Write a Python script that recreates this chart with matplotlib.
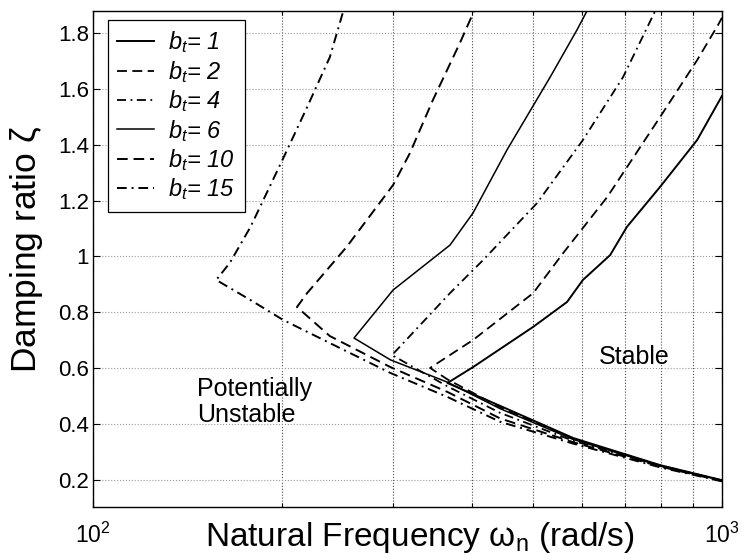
import matplotlib
matplotlib.use("Agg")
import matplotlib.pyplot as plt
from matplotlib.ticker import LogLocator, NullFormatter, FixedLocator

plt.rcParams['font.family'] = ['Liberation Sans', 'DejaVu Sans']
plt.rcParams['mathtext.fontset'] = 'custom'
plt.rcParams['mathtext.rm'] = 'Liberation Sans'
plt.rcParams['mathtext.it'] = 'Liberation Sans:italic'
plt.rcParams['mathtext.bf'] = 'Liberation Sans:bold'

# ---- data (omega in rad/s, zeta) ----
bt_values = [1, 2, 4, 6, 10, 15]

b1_w = [1000, 797, 580, 444, 366, 402, 501, 567, 601, 664, 706, 797, 913, 1000]
b1_z = [0.199, 0.253, 0.35, 0.465, 0.547, 0.604, 0.748, 0.837, 0.916, 1.005, 1.106, 1.249, 1.417, 1.575]

b2_w = [1000, 797, 580, 444, 366, 343.5, 402, 501, 559, 657, 797, 913, 985, 1000]
b2_z = [0.198, 0.252, 0.347, 0.46, 0.56, 0.601, 0.701, 0.869, 1.012, 1.213, 1.499, 1.703, 1.828, 1.855]

b4_w = [1000, 797, 580, 444, 366, 298.8, 369.5, 417, 508, 601, 696, 783, 790]
b4_z = [0.197, 0.25, 0.34, 0.44, 0.535, 0.647, 0.869, 0.987, 1.191, 1.417, 1.642, 1.879, 1.9]

b6_w = [1000, 797, 580, 444, 366, 297, 260, 300, 369.5, 402, 455, 533, 588, 610, 615]
b6_z = [0.198, 0.251, 0.345, 0.455, 0.55, 0.63, 0.708, 0.88, 1.041, 1.156, 1.381, 1.642, 1.811, 1.879, 1.9]

b10_w = [1000, 797, 580, 444, 366, 297, 238, 211, 219, 253, 300, 319, 347, 383, 403.5, 407]
b10_z = [0.196, 0.248, 0.335, 0.42, 0.515, 0.604, 0.715, 0.819, 0.869, 1.034, 1.256, 1.37, 1.56, 1.764, 1.879, 1.9]

b15_w = [1000, 797, 580, 444, 366, 297, 238, 200.5, 178, 157, 165, 178, 200, 219, 238, 250, 252]
b15_z = [0.195, 0.245, 0.33, 0.408, 0.497, 0.583, 0.69, 0.773, 0.844, 0.916, 0.977, 1.106, 1.345, 1.535, 1.714, 1.879, 1.9]

curves_w = [b1_w, b2_w, b4_w, b6_w, b10_w, b15_w]
curves_z = [b1_z, b2_z, b4_z, b6_z, b10_z, b15_z]

x_ticks = [100, 1000]
x_tick_labels = [r'$10^{2}$', r'$10^{3}$']
y_ticks = [0.2, 0.4, 0.6, 0.8, 1.0, 1.2, 1.4, 1.6, 1.8]
y_tick_labels = ['0.2', '0.4', '0.6', '0.8', '1', '1.2', '1.4', '1.6', '1.8']

# ---- styles ----
dash = (5.5, 3.0)
dashdot = (5.0, 2.5, 1.0, 2.5)
styles = [
    dict(ls='-', lw=1.4),
    dict(ls=(0, dash), lw=1.3),
    dict(ls=(0, dashdot), lw=1.3),
    dict(ls='-', lw=1.1),
    dict(ls=(0, dash), lw=1.4),
    dict(ls=(0, dashdot), lw=1.4),
]

fig = plt.figure(figsize=(7.42, 5.59), dpi=100)
ax = fig.add_axes([93 / 742, 1 - 507 / 559, 629 / 742, 496 / 559])

for w, z, st, b in zip(curves_w, curves_z, styles, bt_values):
    ax.plot(w, z, color='black', label=r'$b_t$= %d' % b, **st)

ax.set_xscale('log')
ax.set_xlim(100, 1000)
ax.set_ylim(0.103, 1.879)

ax.xaxis.set_major_locator(FixedLocator(x_ticks))
ax.set_xticklabels(x_tick_labels, fontsize=16.5)
ax.xaxis.set_minor_locator(LogLocator(base=10, subs=range(2, 10)))
ax.xaxis.set_minor_formatter(NullFormatter())
ax.set_yticks(y_ticks)
ax.set_yticklabels(y_tick_labels, fontsize=16)

ax.tick_params(which='both', direction='in', top=True, right=True, width=0.8)
ax.tick_params(which='major', length=5)
ax.tick_params(which='minor', length=3)
ax.tick_params(axis='x', pad=11)
ax.tick_params(axis='y', pad=3)

ax.grid(True, which='minor', axis='x', color='0.3', ls=':', lw=0.8)
ax.grid(True, which='major', axis='x', color='0.3', ls=':', lw=0.8)
ax.grid(True, which='major', axis='y', color='0.6', ls=':', lw=0.8)

for s in ax.spines.values():
    s.set_linewidth(1.0)
    s.set_color('black')

xl = ax.set_xlabel(r'Natural Frequency $\mathrm{\omega}_\mathrm{n}$ (rad/s)', fontsize=24)
xl.set_va('baseline')
ax.xaxis.set_label_coords(0.52, -0.079)
ax.set_ylabel(r'Damping ratio $\mathrm{\zeta}$', fontsize=25.5)
ax.yaxis.set_label_coords(-0.077, 0.52)

ax.text(146.3, 0.567, 'Potentially\nUnstable', fontsize=18, ha='left', va='top', linespacing=1.1)
ax.text(724.5, 0.640, 'Stable', fontsize=18, ha='center', va='center')

leg = ax.legend(loc='upper left', bbox_to_anchor=(0.0238, 0.982), borderaxespad=0,
                fontsize=17, handlelength=1.55, handletextpad=0.6,
                labelspacing=0.15, fancybox=False, framealpha=1, edgecolor='black',
                borderpad=0.4)
for t in leg.get_texts():
    t.set_fontstyle('italic')
leg.get_frame().set_linewidth(0.9)

fig.savefig('out.png', dpi=100)
